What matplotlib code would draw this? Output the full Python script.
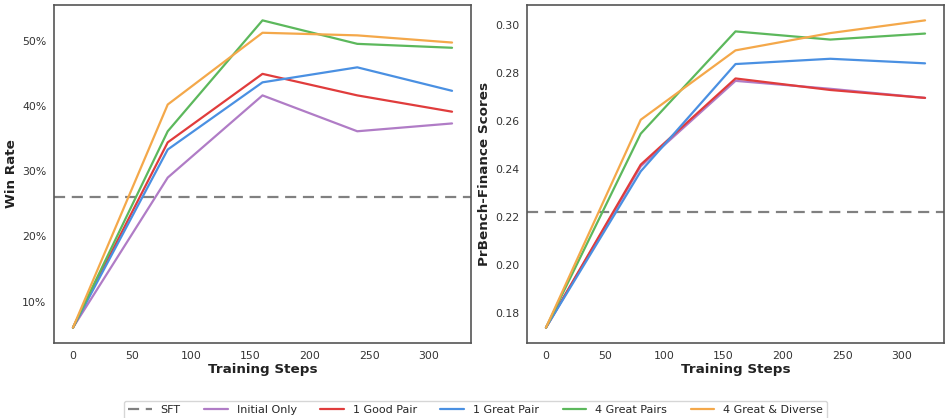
import matplotlib
matplotlib.use("Agg")
import matplotlib.pyplot as plt
import seaborn as sns
from matplotlib.ticker import FuncFormatter

sns.set_style("white")
plt.rcParams['font.family'] = ['DejaVu Sans']

steps = [0, 80, 160, 240, 320]

# win rate (%)
sft_win = 26.1
win_initial = [6.0, 29.0, 41.6, 36.1, 37.3]
win_good1 = [6.0, 34.4, 44.9, 41.6, 39.1]
win_great1 = [6.0, 33.3, 43.6, 45.9, 42.3]
win_great4 = [6.0, 36.1, 53.1, 49.5, 48.9]
win_diverse = [6.0, 40.2, 51.2, 50.8, 49.7]

# PrBench-Finance scores
sft_pb = 0.2220
pb_initial = [0.1738, 0.2410, 0.2766, 0.2733, 0.2695]
pb_good1 = [0.1738, 0.2417, 0.2776, 0.2728, 0.2695]
pb_great1 = [0.1738, 0.2389, 0.2836, 0.2858, 0.2839]
pb_great4 = [0.1738, 0.2546, 0.2972, 0.2938, 0.2963]
pb_diverse = [0.1738, 0.2604, 0.2893, 0.2965, 0.3018]

labels = ["Initial Only", "1 Good Pair", "1 Great Pair", "4 Great Pairs", "4 Great & Diverse"]
colors = ["#b07cc6", "#e03c3c", "#4a90e2", "#5cb85c", "#f4a84a"]

fig = plt.figure(figsize=(9.46, 4.18), dpi=100)
ax1 = fig.add_axes([54/946, 1-343/418, 417/946, 338/418])
ax2 = fig.add_axes([527/946, 1-343/418, 417/946, 338/418])

def draw(ax, sft, series, ylabel):
    ax.axhline(sft, color="#808080", ls="--", lw=1.6, label="SFT", dashes=(5, 3))
    for vals, lab, c in zip(series, labels, colors):
        ax.plot(steps, vals, color=c, lw=1.6, label=lab)
    ax.set_xlabel("Training Steps", fontsize=9.7, fontweight="bold", color="#222222", labelpad=2)
    ax.set_ylabel(ylabel, fontsize=9.7, fontweight="bold", color="#222222", labelpad=3)
    ax.tick_params(labelsize=7.8, colors="#333333", length=0, pad=5.5)
    for s in ax.spines.values():
        s.set_color("#555555")
        s.set_linewidth(1.2)

draw(ax1, sft_win, [win_initial, win_good1, win_great1, win_great4, win_diverse], "Win Rate")
ax1.yaxis.set_major_formatter(FuncFormatter(lambda v, p: f"{v:.0f}%"))
ax1.set_yticks([10, 20, 30, 40, 50])

draw(ax2, sft_pb, [pb_initial, pb_good1, pb_great1, pb_great4, pb_diverse], "PrBench-Finance Scores")
ax2.set_yticks([0.18, 0.20, 0.22, 0.24, 0.26, 0.28, 0.30])
ax2.yaxis.set_major_formatter(FuncFormatter(lambda v, p: f"{v:.2f}"))

h, l = ax1.get_legend_handles_labels()
fig.legend(h, l, loc="center", bbox_to_anchor=(475.5/946, 1-410/418), ncol=6,
           fontsize=8, frameon=True, fancybox=True, edgecolor="#cccccc",
           handlelength=2.15, handletextpad=0.8, columnspacing=2.1, borderpad=0.35)

fig.savefig("out.png", dpi=100)
